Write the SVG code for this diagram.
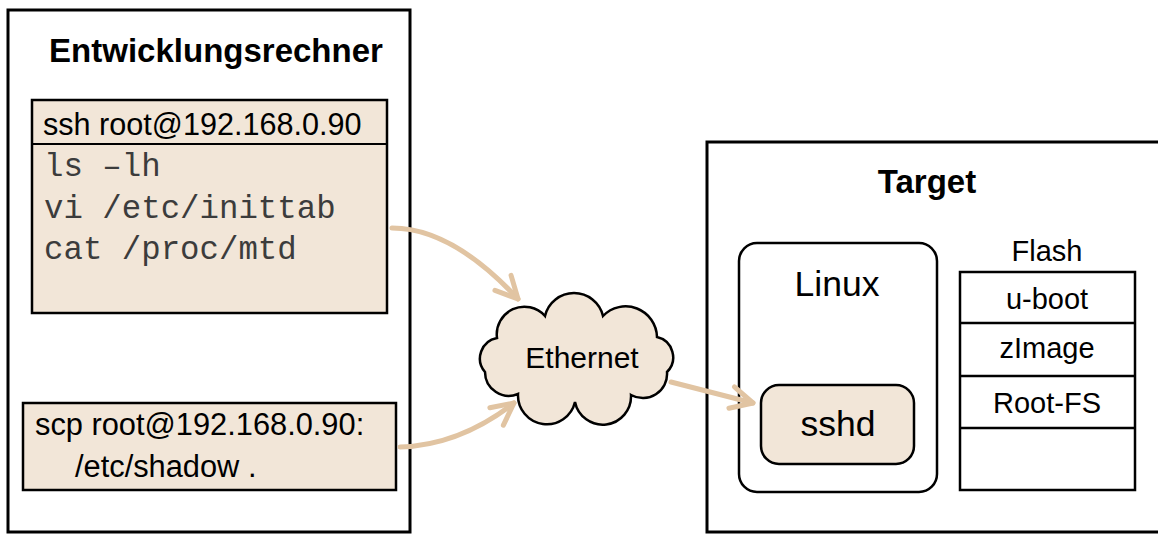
<svg xmlns="http://www.w3.org/2000/svg" width="1158" height="534" viewBox="0 0 1158 534">
<defs>
<style>
.box{fill:#ffffff;stroke:#000;stroke-width:3}
.fill{fill:#f2e6d8;stroke:#000;stroke-width:2.5}
.plain{fill:#ffffff;stroke:#000;stroke-width:2.5}
.sans{font-family:"Liberation Sans",Arial,Helvetica,sans-serif;fill:#000}
.bold{font-weight:bold;font-size:33px}
.mono{font-family:"Liberation Mono","Courier New",monospace;font-size:32.4px;fill:#3c3c3c}
.conn{fill:none;stroke:#e1c4a2;stroke-width:5;stroke-linecap:round}
</style>
<marker id="chev" markerUnits="userSpaceOnUse" markerWidth="40" markerHeight="40" viewBox="-30 -20 40 40" refX="0" refY="0" orient="auto">
<path d="M -22 -11 L 0 0 L -22 11" fill="none" stroke="#e1c4a2" stroke-width="5" stroke-linecap="round" stroke-linejoin="round"/>
</marker>
</defs>
<rect width="1158" height="534" fill="#ffffff"/>

<g id="entwicklungsrechner">
<rect class="box" x="8" y="10" width="402" height="522"/>
<text class="sans bold" x="216" y="62" text-anchor="middle">Entwicklungsrechner</text>
</g>

<g id="ssh">
<rect class="fill" x="32" y="100" width="355" height="213" stroke-width="2"/>
<line x1="32" y1="144" x2="387" y2="144" stroke="#000" stroke-width="2"/>
<text class="sans" x="43" y="135" font-size="30.6">ssh root@192.168.0.90</text>
<text class="mono" x="44" y="176">ls –lh</text>
<text class="mono" x="44" y="218">vi /etc/inittab</text>
<text class="mono" x="44" y="259">cat /proc/mtd</text>
</g>

<g id="scp">
<rect class="fill" x="23" y="403" width="373" height="87" stroke-width="2"/>
<text class="sans" x="35" y="435" font-size="30.8">scp root@192.168.0.90:</text>
<text class="sans" x="75" y="477" font-size="30.8">/etc/shadow .</text>
</g>

<g id="ethernet">
<path class="fill" d="M 497 338 A 27.6 27.6 0 0 1 545 316 A 29.8 29.8 0 0 1 603 316 A 31.4 31.4 0 0 1 657 337 A 20.8 20.8 0 0 1 667 372 A 24.2 24.2 0 0 1 631 395 A 28.3 28.3 0 0 1 575 402 A 28.9 28.9 0 0 1 518 394 A 23.9 23.9 0 0 1 485 372 A 20.8 20.8 0 0 1 497 338 Z"/>
<text class="sans" x="582" y="368" font-size="30" text-anchor="middle">Ethernet</text>
</g>

<g id="target">
<rect class="box" x="707" y="142" width="460" height="390"/>
<text class="sans bold" x="927" y="193" text-anchor="middle">Target</text>
</g>

<g id="linux">
<rect class="plain" x="739" y="243" width="198" height="249" rx="18" stroke-width="2"/>
<text class="sans" x="837" y="296" font-size="35.5" text-anchor="middle">Linux</text>
</g>

<g id="sshd">
<rect class="fill" x="761" y="385" width="153" height="79" rx="18"/>
<text class="sans" x="838" y="436" font-size="35.5" text-anchor="middle">sshd</text>
</g>

<g id="flash">
<text class="sans" x="1047" y="261" font-size="29" text-anchor="middle">Flash</text>
<rect class="plain" x="960" y="272" width="175" height="218"/>
<line x1="960" y1="323" x2="1135" y2="323" stroke="#000" stroke-width="2.5"/>
<line x1="960" y1="376" x2="1135" y2="376" stroke="#000" stroke-width="2.5"/>
<line x1="960" y1="428" x2="1135" y2="428" stroke="#000" stroke-width="2.5"/>
<text class="sans" x="1047" y="309" font-size="29" text-anchor="middle">u-boot</text>
<text class="sans" x="1047" y="358" font-size="29" text-anchor="middle">zImage</text>
<text class="sans" x="1047" y="413" font-size="29" text-anchor="middle">Root-FS</text>
</g>

<g id="connectors">
<path class="conn" d="M 392 228 Q 452 228 518 299" marker-end="url(#chev)"/>
<path class="conn" d="M 400 447 Q 460 445 514 403" marker-end="url(#chev)"/>
<path class="conn" d="M 671 382 L 753 403" marker-end="url(#chev)"/>
</g>
</svg>
